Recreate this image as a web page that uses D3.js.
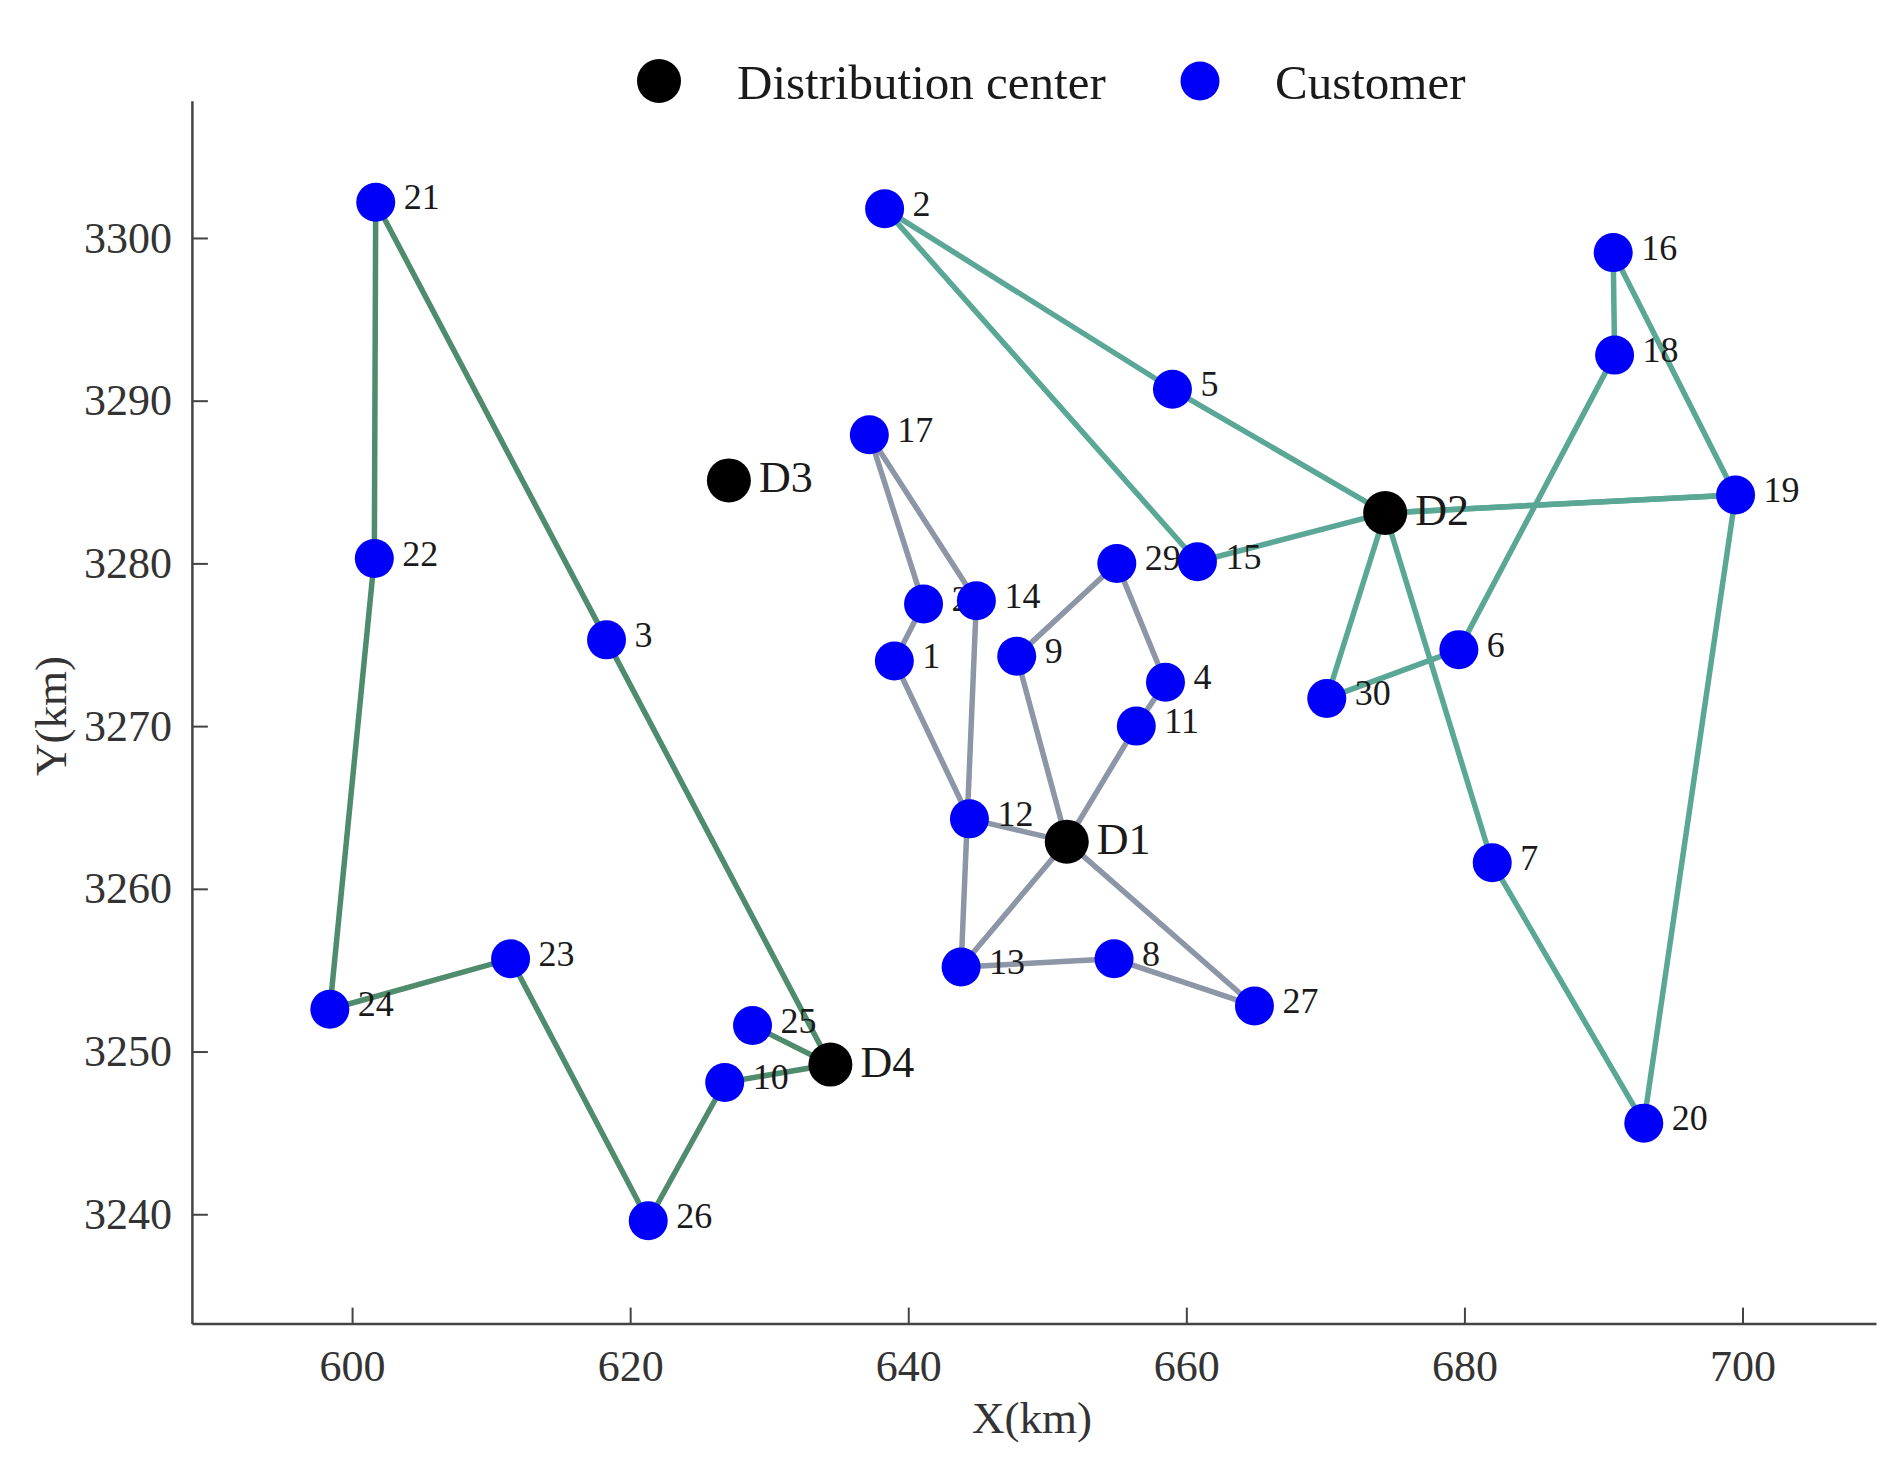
<!DOCTYPE html>
<html>
<head>
<meta charset="utf-8">
<script src="https://cdn.jsdelivr.net/npm/d3@7"></script>
<style>
  html, body { margin: 0; padding: 0; background: #fff; }
  svg { display: block; }
  text { font-family: "Liberation Serif", "DejaVu Serif", serif; }
</style>
</head>
<body>
<svg id="chart" width="1904" height="1466"></svg>
<script>
// ---- data ----
const depotNames = ["D1", "D2", "D3", "D4"];
const depotX = [651.4, 674.3, 627.1, 634.4];
const depotY = [3262.9, 3283.1, 3285.1, 3249.2];

const customerIds = [1,2,3,4,5,6,7,8,9,10,11,12,13,14,15,16,17,18,19,20,21,22,23,24,25,26,27,28,29,30];
const customerX = [639.0, 638.3, 618.3, 658.5, 659.0, 679.6, 682.0, 654.8, 647.8, 626.8,
                   656.4, 644.4, 643.8, 644.9, 660.8, 690.7, 637.2, 690.8, 699.5, 692.9,
                   601.7, 601.6, 611.4, 598.4, 628.8, 621.3, 664.9, 641.1, 655.0, 670.1];
const customerY = [3274.0, 3301.8, 3275.3, 3272.7, 3290.7, 3274.7, 3261.6, 3255.7, 3274.3, 3248.1,
                   3270.0, 3264.3, 3255.2, 3277.7, 3280.1, 3299.1, 3287.9, 3292.8, 3284.2, 3245.6,
                   3302.2, 3280.3, 3255.7, 3252.6, 3251.6, 3239.6, 3252.8, 3277.5, 3280.0, 3271.7];

// routes (node names), grouped by serving depot
const routesD1 = [["D1","12","1","28","17","14","13","8","27","D1"], ["D1","13"], ["D1","9","29","4","11","D1"]];
const routesD2 = [["D2","5","2","15","D2"], ["D2","19","16","18","6","30","D2"], ["D2","19","20","7","D2"]];
const routesD4 = [["D4","3","21","22","24","23","26","10","D4"], ["D4","25","D4"]];

const xTicks = [600, 620, 640, 660, 680, 700];
const yTicks = [3240, 3250, 3260, 3270, 3280, 3290, 3300];
const legendLabels = ["Distribution center", "Customer"];

// ---- layout ----
const svg = d3.select("#chart");
const x = d3.scaleLinear().domain([588.48, 709.6]).range([191.9, 1876]);
const y = d3.scaleLinear().domain([3233.28, 3308.43]).range([1323.6, 100.8]);

const nodes = {};
depotNames.forEach((n, i) => nodes[n] = {name: n, x: depotX[i], y: depotY[i], depot: true});
customerIds.forEach((id, i) => nodes[String(id)] = {name: String(id), x: customerX[i], y: customerY[i], depot: false});

const colorD1 = "#8c96a7", colorD2 = "#5aa796", colorD4 = "#4f8c6d";
const line = d3.line().x(d => x(nodes[d].x)).y(d => y(nodes[d].y));

const gLines = svg.append("g").attr("fill", "none").attr("stroke-width", 5.5)
  .attr("stroke-linejoin", "round").attr("stroke-linecap", "round");
[[routesD1, colorD1], [routesD2, colorD2], [routesD4, colorD4]].forEach(([rs, c]) => {
  gLines.selectAll(null).data(rs).enter().append("path")
    .attr("d", r => line(r)).attr("stroke", c);
});

// axes
const fmt = d3.format("d");
const xAxis = d3.axisBottom(x).tickValues(xTicks).tickFormat(fmt).tickSizeInner(-16).tickSizeOuter(0).tickPadding(26);
const yAxis = d3.axisLeft(y).tickValues(yTicks).tickFormat(fmt).tickSizeInner(-16).tickSizeOuter(0).tickPadding(20);
const gx = svg.append("g").attr("transform", "translate(0,1323.6)").call(xAxis);
const gy = svg.append("g").attr("transform", "translate(191.9,0)").call(yAxis);
[gx, gy].forEach(g => {
  g.select(".domain").attr("stroke", "#444").attr("stroke-width", 2.5);
  g.selectAll(".tick line").attr("stroke", "#444").attr("stroke-width", 2);
  g.selectAll(".tick text").attr("font-family", "Liberation Serif, serif")
    .attr("font-size", 44).attr("fill", "#333");
});

svg.append("text").attr("x", 1032).attr("y", 1433).attr("text-anchor", "middle")
  .attr("font-size", 45).attr("fill", "#333").text("X(km)");
svg.append("text").attr("transform", "translate(66,716) rotate(-90)").attr("text-anchor", "middle")
  .attr("font-size", 45).attr("fill", "#333").text("Y(km)");

// labels (under circles)
const allNodes = Object.values(nodes);
svg.append("g").selectAll("text").data(allNodes).enter().append("text")
  .attr("x", d => x(d.x) + (d.depot ? 30 : 28))
  .attr("y", d => y(d.y) + (d.depot ? 12 : 7))
  .attr("font-size", d => d.depot ? 44 : 36)
  .attr("fill", "#1a1a1a")
  .text(d => d.name);

// circles
svg.append("g").selectAll("circle").data(allNodes).enter().append("circle")
  .attr("cx", d => x(d.x)).attr("cy", d => y(d.y))
  .attr("r", d => d.depot ? 22 : 19.5)
  .attr("fill", d => d.depot ? "#000" : "#0000fa");

// legend
const leg = svg.append("g");
leg.append("circle").attr("cx", 659).attr("cy", 81).attr("r", 22).attr("fill", "#000");
leg.append("text").attr("x", 737).attr("y", 99).attr("font-size", 49).attr("fill", "#1a1a1a").text(legendLabels[0]);
leg.append("circle").attr("cx", 1200).attr("cy", 81).attr("r", 19.5).attr("fill", "#0000fa");
leg.append("text").attr("x", 1275).attr("y", 99).attr("font-size", 49).attr("fill", "#1a1a1a").text(legendLabels[1]);
</script>
</body>
</html>
